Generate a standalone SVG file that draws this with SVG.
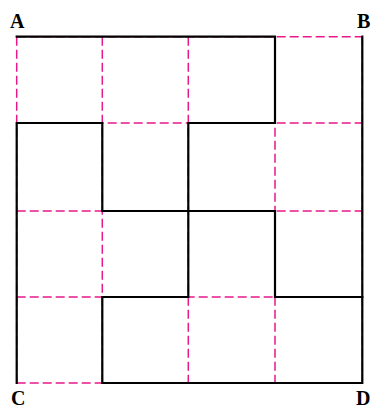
<svg xmlns="http://www.w3.org/2000/svg" width="371" height="410" viewBox="0 0 371 410">
<style>
.grid{stroke:#e8198b;stroke-width:1.5;stroke-dasharray:9 4;fill:none}
.path{stroke:#000;stroke-width:2.2;fill:none;stroke-linejoin:miter;stroke-linecap:square}
.lbl{font-family:"Liberation Serif",serif;font-weight:bold;font-size:20px;fill:#000}
</style>
<rect width="371" height="410" fill="#fff"/>
<g id="grid">
<line class="grid" x1="16.7" y1="36.7" x2="16.7" y2="383"/>
<line class="grid" x1="102.3" y1="36.7" x2="102.3" y2="383"/>
<line class="grid" x1="188.3" y1="36.7" x2="188.3" y2="383"/>
<line class="grid" x1="275" y1="36.7" x2="275" y2="383"/>
<line class="grid" x1="362.3" y1="36.7" x2="362.3" y2="383"/>
<line class="grid" x1="16.7" y1="36.7" x2="362.3" y2="36.7"/>
<line class="grid" x1="16.7" y1="123" x2="362.3" y2="123"/>
<line class="grid" x1="16.7" y1="211" x2="362.3" y2="211"/>
<line class="grid" x1="16.7" y1="297" x2="362.3" y2="297"/>
<line class="grid" x1="16.7" y1="383" x2="362.3" y2="383"/>
</g>
<g id="connectors">
<path class="path" d="M16.7 36.7 H275 V123 H188.3 V297 H102.3 V383 H362.3 V36.7"/>
<path class="path" d="M16.7 383 V123 H102.3 V211 H275 V297 H362.3"/>
</g>
<g id="label-A"><text class="lbl" x="10" y="28">A</text></g>
<g id="label-B"><text class="lbl" x="357" y="28">B</text></g>
<g id="label-C"><text class="lbl" x="11" y="405">C</text></g>
<g id="label-D"><text class="lbl" x="356" y="405">D</text></g>
</svg>
